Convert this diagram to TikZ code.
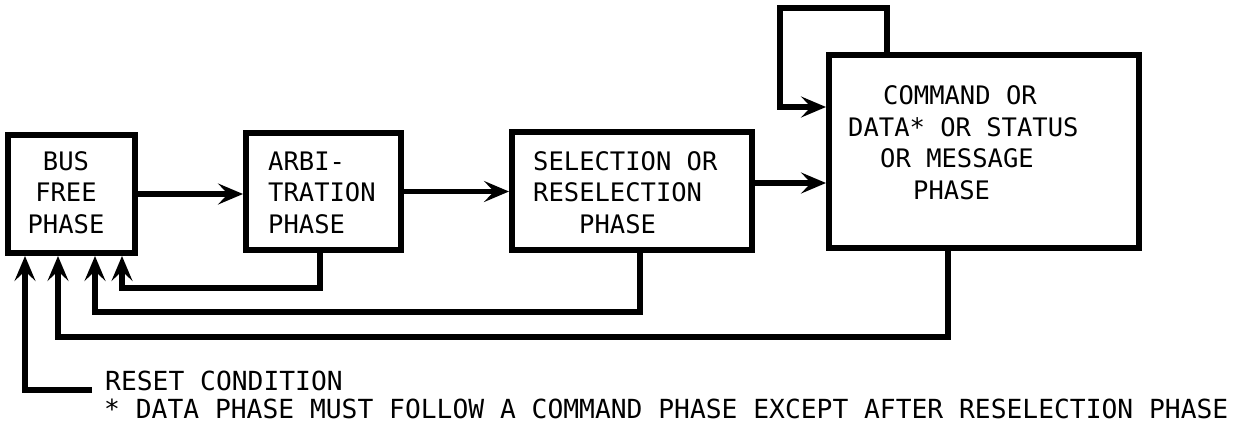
\documentclass[tikz,border=0pt]{standalone}
\usepackage{fontspec}
\newfontfamily\plotfont{DejaVu Sans Mono}
\usetikzlibrary{arrows.meta}
\begin{document}
\begin{tikzpicture}[x=1pt,y=-1pt,
  phasebox/.style={draw, line width=6pt, rectangle, inner sep=0pt},
  conn/.style={line width=5.5pt, -{Stealth[length=25pt,width=21pt,inset=10pt]}},
  boxtext/.style={font=\plotfont\fontsize{25.5}{31.5}\selectfont, inner sep=0pt},
  notetext/.style={font=\plotfont\fontsize{26.3}{31}\selectfont, inner sep=0pt, anchor=base west}
]
\useasboundingbox (0,0) rectangle (1239,424);

% boxes
\node[phasebox, minimum width=127pt, minimum height=118pt] (bus)  at (71.5,194) {};
\node[phasebox, minimum width=155pt, minimum height=117pt] (arbi) at (323.5,191.5) {};
\node[phasebox, minimum width=240pt, minimum height=118pt] (sel)  at (632,191) {};
\node[phasebox, minimum width=310pt, minimum height=193pt] (cmd)  at (984,151.5) {};

% box texts
\node[boxtext, align=center] (busT) at (66,192.5) {BUS\\FREE\\PHASE};
\node[boxtext, align=left, anchor=west] (arbiT) at (268,192.5) {ARBI-\\TRATION\\PHASE};
\node[boxtext, align=left, anchor=west] (selT) at (533,192.5) {SELECTION OR\\RESELECTION\\\hspace*{46pt}PHASE};
\node[boxtext, align=left, anchor=west] (cmdT) at (848,142.5) {\hspace*{35pt}COMMAND OR\\DATA* OR STATUS\\\hspace*{32pt}OR MESSAGE\\\hspace*{65pt}PHASE};

% forward connectors
\draw[conn] (bus.east) -- (bus.east -| arbi.west);
\draw[conn] (arbi.east) -- (arbi.east -| sel.west);
\draw[conn] ([yshift=8pt]sel.east) -- ([yshift=8pt]sel.east -| cmd.west);

% self loop on command box
\draw[conn] ([xshift=-97pt]cmd.north) |- (780,8) |- ([yshift=44.5pt]cmd.west);

% return paths to bus free
\draw[conn] ([xshift=-3.5pt]arbi.south) |- (122,288) -- ([xshift=50.5pt]bus.south);
\draw[conn] ([xshift=8pt]sel.south) |- (95,312) -- ([xshift=23.5pt]bus.south);
\draw[conn] ([xshift=-36pt]cmd.south) |- (58,337) -- ([xshift=-13.5pt]bus.south);

% reset condition
\coordinate (rst) at (92,390);
\draw[conn, line width=6.5pt] (rst) -| ([xshift=-46.5pt]bus.south);

\node[notetext] (rstT) at (105,390) {RESET CONDITION};
\node[notetext] (note) at (104,418) {* DATA PHASE MUST FOLLOW A COMMAND PHASE EXCEPT AFTER RESELECTION PHASE};
\end{tikzpicture}
\end{document}
